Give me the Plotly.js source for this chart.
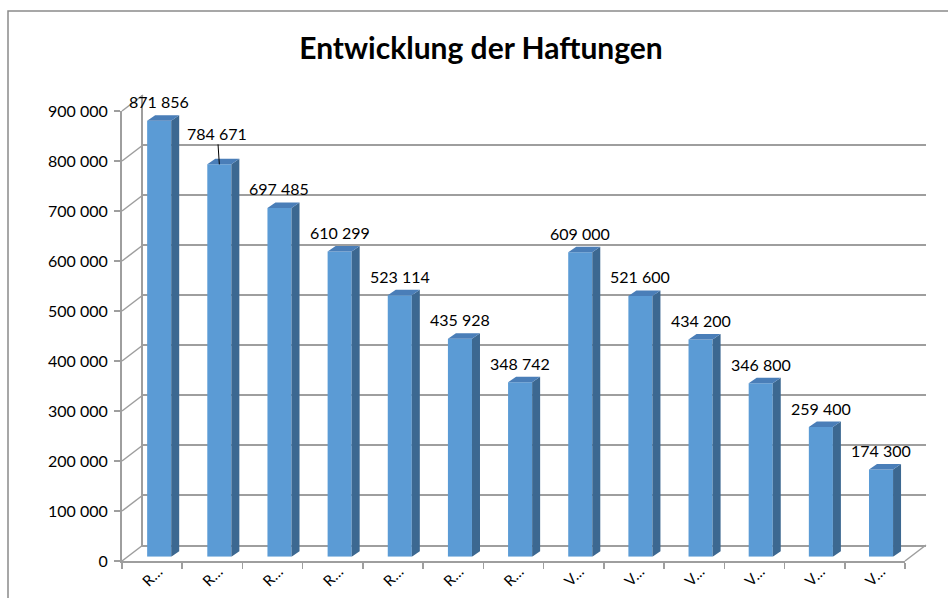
<!DOCTYPE html>
<html>
<head>
<meta charset="utf-8">
<script src="https://cdn.plot.ly/plotly-3.0.1.min.js"></script>
<style>html,body{margin:0;padding:0;background:#fff;}#chart{width:948px;height:598px;}</style>
</head>
<body>
<div id="chart"></div>
<script>
// ---- data ----
const categories = ['R…','R…','R…','R…','R…','R…','R…','V…','V…','V…','V…','V…','V…'];
const values = [871856, 784671, 697485, 610299, 523114, 435928, 348742, 609000, 521600, 434200, 346800, 259400, 174300];
const yTickValues = [0, 100000, 200000, 300000, 400000, 500000, 600000, 700000, 800000, 900000];
const chartTitle = 'Entwicklung der Haftungen';

// ---- geometry (pixels) ----
const W = 948, H = 598;
const px = x => x / W, py = y => 1 - y / H;
const FRONT = {l:122, r:905, t:111, b:561};
const BACK  = {l:143, r:926, t:95,  b:545};
const BARS  = {l:129.1, r:911.1, t:106.7, b:556.7};
const YMAX = 900000;
const n = values.length;
const idx = values.map((v,i)=>i);
const catPx = (BARS.r - BARS.l) / n;
const dxD = 8 / catPx;
const dyD = 5.5 * YMAX / (BARS.b - BARS.t);
const halfW = 0.2;

const gridCol = '#9e9e9e';
const FONT = 'Lato, Carlito, Calibri, "Noto Sans", sans-serif';

// side and top faces
const sx = [], sy = [], tx = [], ty = [];
idx.forEach(i => {
  const v = values[i], xl = i - halfW, xr = i + halfW;
  sx.push(xr, xr, xr + dxD, xr + dxD, xr, null);
  sy.push(0, v, v + dyD, dyD, 0, null);
  tx.push(xl, xr, xr + dxD, xl + dxD, xl, null);
  ty.push(v, v, v + dyD, v + dyD, v, null);
});

const fmt = v => String(v).replace(/\B(?=(\d{3})+(?!\d))/g, ' ');

const traces = [
  {type:'scatter', x: idx, y: values, xaxis:'x', yaxis:'y', mode:'markers', marker:{opacity:0}, hoverinfo:'skip', showlegend:false},
  {type:'bar', x: idx, y: values, xaxis:'x2', yaxis:'y2', width: 2*halfW, marker:{color:'#5B9BD5', line:{width:0}}, hoverinfo:'skip', showlegend:false},
  {type:'scatter', x: sx, y: sy, xaxis:'x2', yaxis:'y2', mode:'lines', fill:'toself', fillcolor:'#3C6891', line:{width:0, color:'#3C6891'}, hoverinfo:'skip', showlegend:false},
  {type:'scatter', x: tx, y: ty, xaxis:'x2', yaxis:'y2', mode:'lines', fill:'toself', fillcolor:'#4A7EB8', line:{width:0, color:'#4A7EB8'}, hoverinfo:'skip', showlegend:false},
  {type:'scatter', x: idx, y: values, xaxis:'x3', yaxis:'y3', mode:'markers', marker:{opacity:0}, hoverinfo:'skip', showlegend:false}
];

// data labels
const leaderIdx = 1;
const annotations = idx.map(i => {
  if (i === leaderIdx) {
    return {xref:'x2', yref:'y2', x:i, y:values[i], text: fmt(values[i]), showarrow:true, arrowhead:0, arrowwidth:1, arrowcolor:'#000', standoff:0, ax:-2, ay:-31, font:{family:FONT, size:16, color:'#000'}};
  }
  return {xref:'x2', yref:'y2', x:i, y:values[i], text: fmt(values[i]), showarrow:false, yshift:19, yanchor:'middle', xanchor:'center', font:{family:FONT, size:16, color:'#000'}};
});

// wall / floor connector lines
const frontY = v => FRONT.b - (FRONT.b - FRONT.t) * v / YMAX;
const backY = v => BACK.b - (BACK.b - BACK.t) * v / YMAX;
const shapes = yTickValues.map(v => ({type:'line', xref:'paper', yref:'paper', x0:px(FRONT.l), y0:py(frontY(v)), x1:px(BACK.l), y1:py(backY(v)), line:{color:gridCol, width:1.5}}));
shapes.push({type:'line', xref:'paper', yref:'paper', x0:px(FRONT.r), y0:py(FRONT.b), x1:px(BACK.r), y1:py(BACK.b), line:{color:gridCol, width:1.5}});
shapes.push({type:'rect', xref:'paper', yref:'paper', x0:px(8), y0:py(11), x1:px(980), y1:py(640), line:{color:'#8a8a8a', width:1.5}, fillcolor:'rgba(0,0,0,0)', layer:'below'});

const layout = {
  width: W, height: H, autosize:false,
  margin:{l:0, r:0, t:0, b:0},
  paper_bgcolor:'#fff', plot_bgcolor:'rgba(0,0,0,0)',
  separators: ', ',
  font:{family:FONT, size:16, color:'#000'},
  showlegend:false,
  title:{text: chartTitle, x: px(481), y: py(48), xanchor:'center', yanchor:'middle', xref:'paper', yref:'paper', font:{family:FONT, size:30, weight:'bold', color:'#000'}},
  xaxis:{domain:[px(BACK.l), px(BACK.r)], range:[-0.5, n-0.5], anchor:'y', showgrid:false, zeroline:false, showticklabels:false, ticks:'', showline:true, linecolor:gridCol, linewidth:2, fixedrange:true},
  yaxis:{domain:[py(BACK.b), py(BACK.t)], range:[0, YMAX], anchor:'x', tickvals: yTickValues, showgrid:true, gridcolor:gridCol, gridwidth:2, zeroline:false, showticklabels:false, ticks:'', showline:true, linecolor:gridCol, linewidth:2, fixedrange:true},
  xaxis2:{domain:[px(BARS.l), px(BARS.r)], range:[-0.5, n-0.5], anchor:'y2', visible:false, fixedrange:true},
  yaxis2:{domain:[py(BARS.b), py(BARS.t)], range:[0, YMAX], anchor:'x2', visible:false, fixedrange:true},
  xaxis3:{domain:[px(FRONT.l), px(FRONT.r)], range:[-0.5, n-0.5], anchor:'y3', tickvals: idx, ticktext: categories, ticks:'', tickangle:-45, ticklabelshift:6, ticklabelstandoff:-6, tickfont:{family:FONT, size:15, color:'#000'}, showline:true, linecolor:gridCol, linewidth:2, showgrid:false, zeroline:false, fixedrange:true,
    minor:{ticks:'outside', tick0:-0.5, dtick:1, ticklen:6, tickcolor:gridCol, tickwidth:1.5, showgrid:false}},
  yaxis3:{domain:[py(FRONT.b), py(FRONT.t)], range:[0, YMAX], anchor:'x3', tickvals: yTickValues, tickformat:',d', ticks:'outside', ticklen:6, ticklabelstandoff:3, tickcolor:gridCol, tickwidth:1.5, showline:true, linecolor:gridCol, linewidth:2, showgrid:false, zeroline:false, tickfont:{family:FONT, size:16, color:'#000'}, fixedrange:true},
  annotations: annotations,
  shapes: shapes
};

Plotly.newPlot('chart', traces, layout, {staticPlot:true, displayModeBar:false});
</script>
</body>
</html>
